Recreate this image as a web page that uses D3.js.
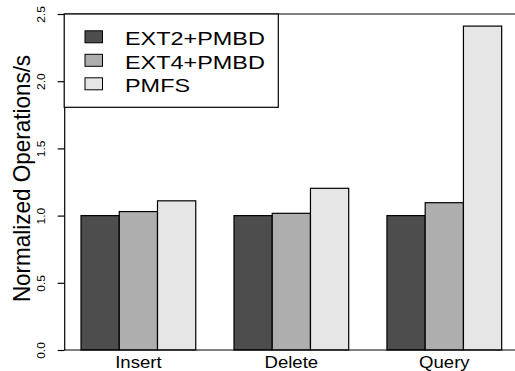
<!DOCTYPE html>
<html>
<head>
<meta charset="utf-8">
<script src="https://cdn.jsdelivr.net/npm/d3@7"></script>
<style>
  body { margin: 0; background: #fff; }
  text { font-family: "Liberation Sans", Arial, Helvetica, sans-serif; fill: #000; }
</style>
</head>
<body>
<div id="chart"></div>
<script>
// data
const categories = ["Insert", "Delete", "Query"];
const series = ["EXT2+PMBD", "EXT4+PMBD", "PMFS"];
const ext2Values = [1.0, 1.0, 1.0];
const ext4Values = [1.03, 1.017, 1.096];
const pmfsValues = [1.11, 1.203, 2.41];
const yTicks = [0.0, 0.5, 1.0, 1.5, 2.0, 2.5];

const colors = ["#4d4d4d", "#aeaeae", "#e6e6e6"];
const valuesBySeries = [ext2Values, ext4Values, pmfsValues];

const W = 515, H = 371;
const plot = { left: 64.2, right: 518.5, top: 14, bottom: 350 };

const svg = d3.select("#chart")
    .append("svg")
    .attr("width", W)
    .attr("height", H);

// scales: groups of three bars with one bar width of space between
const x0 = d3.scaleBand()
    .domain(categories)
    .range([plot.left, plot.right])
    .paddingInner(0.25)
    .paddingOuter(0.11);

const x1 = d3.scaleBand()
    .domain(series)
    .range([0, x0.bandwidth()])
    .padding(0);

const y = d3.scaleLinear()
    .domain([0, 2.5])
    .range([plot.bottom, plot.top]);

// bars
const rows = categories.map((c, i) => ({
    category: c,
    values: series.map((s, j) => ({ series: s, value: valuesBySeries[j][i], color: colors[j] }))
}));

const groups = svg.selectAll(".group")
    .data(rows)
    .enter()
    .append("g")
    .attr("transform", d => `translate(${x0(d.category)},0)`);

groups.selectAll("rect")
    .data(d => d.values)
    .enter()
    .append("rect")
    .attr("x", d => x1(d.series))
    .attr("y", d => y(d.value))
    .attr("width", x1.bandwidth())
    .attr("height", d => y(0) - y(d.value))
    .attr("fill", d => d.color)
    .attr("stroke", "#000")
    .attr("stroke-width", 1.2);

// box lines (top and bottom, right side falls off the picture)
svg.append("line")
    .attr("x1", plot.left).attr("x2", plot.right)
    .attr("y1", y(0)).attr("y2", y(0))
    .attr("stroke", "#000").attr("stroke-width", 1.2);
svg.append("line")
    .attr("x1", plot.left).attr("x2", plot.right)
    .attr("y1", y(2.5)).attr("y2", y(2.5))
    .attr("stroke", "#000").attr("stroke-width", 1.2);

// y axis
const yAxis = svg.append("g")
    .attr("transform", `translate(${plot.left},0)`)
    .call(d3.axisLeft(y).tickValues(yTicks).tickSize(6.5).tickSizeOuter(0).tickFormat(d3.format(".1f")));
yAxis.select(".domain").attr("stroke-width", 1.2);
yAxis.selectAll(".tick line").attr("stroke-width", 1.2);
yAxis.selectAll(".tick text")
    .attr("x", null).attr("dy", null)
    .attr("text-anchor", "middle")
    .attr("transform", "translate(-19.5,0) rotate(-90) scale(1.2,1)")
    .style("font-size", "10px")
    .style("font-family", "'Liberation Sans', Arial, sans-serif");

// x labels
svg.selectAll(".xlabel")
    .data(categories)
    .enter()
    .append("text")
    .attr("text-anchor", "middle")
    .attr("transform", d => `translate(${x0(d) + x0.bandwidth() / 2},368) scale(1.14,1)`)
    .style("font-size", "16.3px")
    .text(d => d);

// y label
svg.append("text")
    .attr("text-anchor", "middle")
    .attr("transform", "translate(30,178.5) rotate(-90) scale(0.965,1)")
    .style("font-size", "23.3px")
    .text("Normalized Operations/s");

// legend
svg.append("rect")
    .attr("x", plot.left)
    .attr("y", plot.top)
    .attr("width", 278.3 - plot.left)
    .attr("height", 107.3 - plot.top)
    .attr("fill", "#fff")
    .attr("stroke", "#000")
    .attr("stroke-width", 1.2);

const legend = svg.selectAll(".legend")
    .data(series)
    .enter()
    .append("g")
    .attr("transform", (d, i) => `translate(85, ${36.8 + i * 23.5})`);

legend.append("rect")
    .attr("x", 0)
    .attr("y", -6)
    .attr("width", 17.5)
    .attr("height", 12)
    .attr("fill", (d, i) => colors[i])
    .attr("stroke", "#000")
    .attr("stroke-width", 1);

legend.append("text")
    .attr("transform", "translate(40,8.2) scale(1.26,1)")
    .style("font-size", "18.6px")
    .text(d => d);
</script>
</body>
</html>
